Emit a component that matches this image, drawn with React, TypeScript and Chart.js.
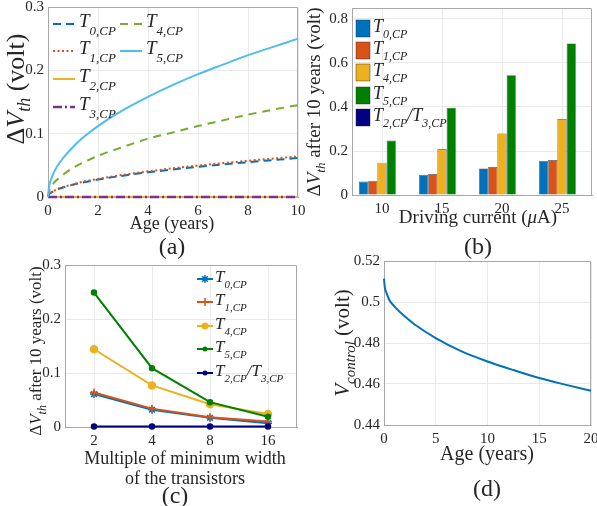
import React, { useEffect, useRef } from 'react';
import { Chart, registerables } from 'chart.js';
Chart.register(...registerables);

const FONT = '"Liberation Serif", "Times New Roman", Times, serif';
const TXT = '#262626';
const GRID = '#e9e9e9';
const AXIS = '#a8a8a8';
const W = 597, H = 506;
const Y_W = 40, X_H = 25;

const BLUE = '#0072BD', ORANGE = '#D95319', YELLOW = '#EDB120', PURPLE = '#7E2F8E';
const LGREEN = '#77AC30', LBLUE = '#4DBEEE', GREEN = '#008000', NAVY = '#000080';

// ---------- (a) ΔVth vs age ----------
const ageYears = [0, 0.05, 0.1, 0.25, 0.5, 1, 1.5, 2, 3, 4, 5, 6, 7, 8, 9, 10];
const aT0 = [0, 0.0044, 0.0062, 0.0097, 0.0138, 0.0194, 0.0238, 0.0275, 0.0337, 0.0389, 0.0435, 0.0476, 0.0514, 0.055, 0.0583, 0.0615];
const aT1 = [0, 0.0045, 0.0064, 0.010, 0.0143, 0.020, 0.025, 0.0286, 0.035, 0.0405, 0.0453, 0.0496, 0.0535, 0.0572, 0.0607, 0.064];
const aT2 = [0, 0, 0, 0, 0, 0, 0, 0, 0, 0, 0, 0, 0, 0, 0, 0];
const aT3 = [0, 0, 0, 0, 0, 0, 0, 0, 0, 0, 0, 0, 0, 0, 0, 0];
const aT4 = [0, 0.010, 0.0145, 0.023, 0.032, 0.046, 0.056, 0.065, 0.079, 0.092, 0.102, 0.112, 0.121, 0.130, 0.138, 0.145];
const aT5 = [0, 0.018, 0.025, 0.040, 0.056, 0.079, 0.097, 0.112, 0.137, 0.158, 0.177, 0.194, 0.209, 0.224, 0.237, 0.250];

// ---------- (b) ΔVth after 10 years vs driving current ----------
const bCurrents = ['10', '15', '20', '25'];
const bT0 = [0.061, 0.092, 0.121, 0.155];
const bT1 = [0.064, 0.095, 0.127, 0.159];
const bT4 = [0.147, 0.209, 0.280, 0.345];
const bT5 = [0.248, 0.397, 0.544, 0.689];
const bT23 = [0.002, 0.003, 0.003, 0.003];

// ---------- (c) ΔVth after 10 years vs width multiple ----------
const cWidths = ['2', '4', '8', '16'];
const cT0 = [0.061, 0.032, 0.017, 0.007];
const cT1 = [0.064, 0.034, 0.018, 0.010];
const cT4 = [0.144, 0.077, 0.042, 0.024];
const cT5 = [0.249, 0.109, 0.046, 0.019];
const cT23 = [0.0008, 0.0008, 0.0008, 0.0008];

// ---------- (d) Vcontrol vs age ----------
const dYears = [0, 0.05, 0.1, 0.2, 0.5, 1, 2, 3, 5, 7.5, 10, 12.5, 15, 17.5, 20];
const dVctrl = [0.5114, 0.5085, 0.5065, 0.505, 0.5011, 0.4979, 0.493, 0.4889, 0.4824, 0.4759, 0.471, 0.4668, 0.4629, 0.4597, 0.4567];

// ---------- helpers ----------
const fmt = (v: any) => String(Math.round(Number(v) * 10000) / 10000);
const fixY = (s: any) => { s.width = Y_W; s.paddingTop = 0; s.paddingBottom = 0; s.paddingLeft = 0; s.paddingRight = 0; };
const fixX = (s: any) => { s.height = X_H; s.paddingTop = 0; s.paddingBottom = 0; s.paddingLeft = 0; s.paddingRight = 0; };

function yLin(min: number, max: number, step: number) {
  return {
    type: 'linear', position: 'left', min, max,
    ticks: { stepSize: step, includeBounds: false, padding: 4, color: TXT, font: { family: FONT, size: 15 }, callback: (v: any) => fmt(v) },
    grid: { color: GRID, drawTicks: false },
    border: { color: AXIS, width: 1 },
    afterFit: fixY,
  };
}
function xLin(min: number, max: number, step: number) {
  return {
    type: 'linear', position: 'bottom', min, max,
    ticks: { stepSize: step, includeBounds: false, padding: 5, maxRotation: 0, color: TXT, font: { family: FONT, size: 15 }, callback: (v: any) => fmt(v) },
    grid: { color: GRID, drawTicks: false },
    border: { color: AXIS, width: 1 },
    afterFit: fixX,
  };
}
function xCat() {
  return {
    type: 'category', position: 'bottom', offset: true,
    ticks: { padding: 5, maxRotation: 0, color: TXT, font: { family: FONT, size: 15 } },
    grid: { color: GRID, drawTicks: false, offset: false },
    border: { color: AXIS, width: 1 },
    afterFit: fixX,
  };
}
function pad(l: number, t: number, r: number, b: number) {
  return { left: l - Y_W, top: t, right: W - r, bottom: H - b - X_H };
}

type Seg = { t: string; s: number; it?: boolean; dy?: number };
const fnt = (g: Seg) => `${g.it ? 'italic ' : ''}${g.s}px ${FONT}`;
function drawRich(ctx: CanvasRenderingContext2D, x: number, y: number, segs: Seg[], align: 'left' | 'center' = 'left', rot = false) {
  ctx.save();
  ctx.translate(x, y);
  if (rot) ctx.rotate(-Math.PI / 2);
  let w = 0;
  for (const g of segs) { ctx.font = fnt(g); w += ctx.measureText(g.t).width; }
  let cx = align === 'center' ? -w / 2 : 0;
  ctx.fillStyle = TXT;
  ctx.textAlign = 'left';
  ctx.textBaseline = 'alphabetic';
  for (const g of segs) { ctx.font = fnt(g); ctx.fillText(g.t, cx, g.dy || 0); cx += ctx.measureText(g.t).width; }
  ctx.restore();
}
const tLabel = (n: string, big: number, small: number, dy: number): Seg[] => [
  { t: 'T', s: big, it: true }, { t: n + ',CP', s: small, it: true, dy },
];
const t23Label = (big: number, small: number, dy: number): Seg[] => [
  { t: 'T', s: big, it: true }, { t: '2,CP', s: small, it: true, dy },
  { t: '/T', s: big, it: true }, { t: '3,CP', s: small, it: true, dy },
];

function boxPlugin(draw: (ctx: CanvasRenderingContext2D, chart: any) => void) {
  return {
    id: 'decor',
    beforeDatasetsDraw(chart: any) {
      const { ctx, chartArea: a } = chart;
      ctx.save();
      ctx.strokeStyle = AXIS;
      ctx.lineWidth = 1;
      ctx.beginPath();
      const t = Math.round(a.top) + 0.5, r = Math.round(a.right) - 0.5;
      ctx.moveTo(a.left, t); ctx.lineTo(r, t); ctx.lineTo(r, a.bottom);
      ctx.stroke();
      ctx.restore();
    },
    afterDraw(chart: any) {
      chart.ctx.save();
      draw(chart.ctx, chart);
      chart.ctx.restore();
    },
  };
}

function legendLine(ctx: CanvasRenderingContext2D, ds: any, x0: number, x1: number, y: number) {
  ctx.save();
  ctx.strokeStyle = ds.borderColor;
  ctx.lineWidth = ds.borderWidth;
  ctx.setLineDash(ds.borderDash || []);
  ctx.beginPath();
  ctx.moveTo(x0, y); ctx.lineTo(x1, y);
  ctx.stroke();
  ctx.restore();
}
function marker(ctx: CanvasRenderingContext2D, ds: any, x: number, y: number) {
  const r = ds.pointRadius;
  ctx.save();
  ctx.strokeStyle = ds.borderColor;
  ctx.fillStyle = ds.borderColor;
  ctx.lineWidth = 1.5;
  ctx.beginPath();
  if (ds.pointStyle === 'star' || ds.pointStyle === 'cross') {
    ctx.moveTo(x - r, y); ctx.lineTo(x + r, y); ctx.moveTo(x, y - r); ctx.lineTo(x, y + r);
    if (ds.pointStyle === 'star') {
      const d = r * 0.707;
      ctx.moveTo(x - d, y - d); ctx.lineTo(x + d, y + d); ctx.moveTo(x - d, y + d); ctx.lineTo(x + d, y - d);
    }
    ctx.stroke();
  } else {
    ctx.arc(x, y, r, 0, Math.PI * 2);
    ctx.fill();
  }
  ctx.restore();
}

const baseOpts = (padding: any, scales: any) => ({
  animation: false, responsive: false, devicePixelRatio: 1,
  layout: { padding },
  plugins: { legend: { display: false }, tooltip: { enabled: false } },
  scales,
});

// ---------- (a) ----------
function cfgA() {
  const line = (arr: number[], color: string, dash: number[], order: number, width = 2) => ({
    data: ageYears.map((x, i) => ({ x, y: arr[i] })),
    borderColor: color, borderWidth: width, borderDash: dash, pointRadius: 0,
    fill: false, cubicInterpolationMode: 'monotone', clip: 5, order,
  });
  const sets = [
    line(aT0, BLUE, [8, 5], 5),
    line(aT1, ORANGE, [2, 2.5], 4),
    line(aT2, YELLOW, [], 3),
    line(aT3, PURPLE, [9, 3, 2, 3], 2, 2.5),
    line(aT4, LGREEN, [8, 6], 1),
    line(aT5, LBLUE, [], 0),
  ];
  const labels = ['0', '1', '2', '3', '4', '5'];
  const pos = [[53, 24], [53, 51], [53, 79], [53, 107], [120, 24], [120, 51]];
  return {
    type: 'line',
    data: { datasets: sets },
    options: baseOpts(pad(48, 7, 298, 197), { x: xLin(0, 10, 2), y: yLin(0, 0.3, 0.1) }),
    plugins: [boxPlugin((ctx) => {
      sets.forEach((ds, i) => {
        const [x, y] = pos[i];
        legendLine(ctx, ds, x, x + 22, y);
        drawRich(ctx, x + 26, y + 3, tLabel(labels[i], 19, 13, 8));
      });
      drawRich(ctx, 24, 89, [
        { t: 'Δ', s: 26 }, { t: 'V', s: 26, it: true }, { t: 'th', s: 18, it: true, dy: 6 }, { t: ' (volt)', s: 26 },
      ], 'center', true);
      drawRich(ctx, 172, 229, [{ t: 'Age (years)', s: 18 }], 'center');
      drawRich(ctx, 172, 254, [{ t: '(a)', s: 24 }], 'center');
    })],
  };
}

// ---------- (b) ----------
function cfgB() {
  const bar = (arr: number[], color: string) => ({
    data: arr, backgroundColor: color, borderColor: 'rgba(30,30,30,0.75)', borderWidth: 0.7,
    categoryPercentage: 0.77, barPercentage: 1.0,
  });
  const sets = [bar(bT0, BLUE), bar(bT1, ORANGE), bar(bT4, YELLOW), bar(bT5, GREEN), bar(bT23, NAVY)];
  const rows = [28, 50, 72, 95, 117];
  const labs = [tLabel('0', 18, 12, 6), tLabel('1', 18, 12, 6), tLabel('4', 18, 12, 6), tLabel('5', 18, 12, 6), t23Label(18, 12, 6)];
  return {
    type: 'bar',
    data: { labels: bCurrents, datasets: sets },
    options: baseOpts(pad(352, 8, 592, 195), { x: xCat(), y: yLin(0, 0.85, 0.2) }),
    plugins: [boxPlugin((ctx) => {
      sets.forEach((ds, i) => {
        const y = rows[i];
        ctx.fillStyle = ds.backgroundColor;
        ctx.fillRect(356, y - 8, 14, 17);
        ctx.strokeStyle = 'rgba(30,30,30,0.6)';
        ctx.lineWidth = 0.7;
        ctx.strokeRect(356, y - 8, 14, 17);
        drawRich(ctx, 373, y + 4, labs[i]);
      });
      drawRich(ctx, 320, 102, [
        { t: 'Δ', s: 19 }, { t: 'V', s: 19, it: true }, { t: 'th', s: 13, it: true, dy: 5 }, { t: ' after 10 years (volt)', s: 19 },
      ], 'center', true);
      drawRich(ctx, 478, 223, [{ t: 'Driving current (', s: 19 }, { t: 'μ', s: 19, it: true }, { t: 'A)', s: 19 }], 'center');
      drawRich(ctx, 478, 254, [{ t: '(b)', s: 24 }], 'center');
    })],
  };
}

// ---------- (c) ----------
function cfgC() {
  const line = (arr: number[], color: string, style: string, r: number, order: number) => ({
    data: arr, borderColor: color, backgroundColor: color, borderWidth: 2,
    pointStyle: style, pointRadius: r, pointBorderWidth: 1.5, pointBackgroundColor: color, pointBorderColor: color,
    fill: false, tension: 0, clip: 6, order,
  });
  const sets = [
    line(cT0, BLUE, 'star', 4, 4),
    line(cT1, ORANGE, 'cross', 4, 3),
    line(cT4, YELLOW, 'circle', 3.5, 2),
    line(cT5, GREEN, 'circle', 2.5, 1),
    line(cT23, NAVY, 'circle', 2.5, 0),
  ];
  const rows = [279, 302, 326, 349, 373];
  const labs = [tLabel('0', 17, 11, 6), tLabel('1', 17, 11, 6), tLabel('4', 17, 11, 6), tLabel('5', 17, 11, 6), t23Label(17, 11, 6)];
  return {
    type: 'line',
    data: { labels: cWidths, datasets: sets },
    options: baseOpts(pad(65, 265, 297, 427), { x: xCat(), y: yLin(0, 0.3, 0.1) }),
    plugins: [boxPlugin((ctx) => {
      sets.forEach((ds, i) => {
        const y = rows[i];
        legendLine(ctx, ds, 197, 213, y);
        marker(ctx, ds, 205, y);
        drawRich(ctx, 215, y + 3, labs[i]);
      });
      drawRich(ctx, 41, 351, [
        { t: 'Δ', s: 17 }, { t: 'V', s: 17, it: true }, { t: 'th', s: 12, it: true, dy: 5 }, { t: ' after 10 years (volt)', s: 17 },
      ], 'center', true);
      drawRich(ctx, 185, 464, [{ t: 'Multiple of minimum width', s: 18 }], 'center');
      drawRich(ctx, 185, 484, [{ t: 'of the transistors', s: 18 }], 'center');
      drawRich(ctx, 175, 503, [{ t: '(c)', s: 24 }], 'center');
    })],
  };
}

// ---------- (d) ----------
function cfgD() {
  const sets = [{
    data: dYears.map((x, i) => ({ x, y: dVctrl[i] })),
    borderColor: BLUE, borderWidth: 2, pointRadius: 0, fill: false, cubicInterpolationMode: 'monotone', clip: 3,
  }];
  return {
    type: 'line',
    data: { datasets: sets },
    options: baseOpts(pad(384, 261, 591, 425), { x: xLin(0, 20, 5), y: yLin(0.44, 0.52, 0.02) }),
    plugins: [boxPlugin((ctx) => {
      drawRich(ctx, 349, 343, [
        { t: 'V', s: 21, it: true }, { t: 'control', s: 15, it: true, dy: 6 }, { t: ' (volt)', s: 21 },
      ], 'center', true);
      drawRich(ctx, 487, 460, [{ t: 'Age (years)', s: 20 }], 'center');
      drawRich(ctx, 487, 496, [{ t: '(d)', s: 24 }], 'center');
    })],
  };
}

function ChartCanvas({ make }: { make: () => any }) {
  const ref = useRef<HTMLCanvasElement>(null);
  useEffect(() => {
    const chart = new Chart(ref.current as HTMLCanvasElement, make() as any);
    return () => chart.destroy();
  }, []);
  return (
    <canvas ref={ref} width={W} height={H}
      style={{ position: 'absolute', left: 0, top: 0, width: W, height: H }} />
  );
}

export default function App() {
  return (
    <div style={{ position: 'fixed', left: 0, top: 0, width: W, height: H, background: '#fff', overflow: 'hidden' }}>
      <ChartCanvas make={cfgA} />
      <ChartCanvas make={cfgB} />
      <ChartCanvas make={cfgC} />
      <ChartCanvas make={cfgD} />
    </div>
  );
}
